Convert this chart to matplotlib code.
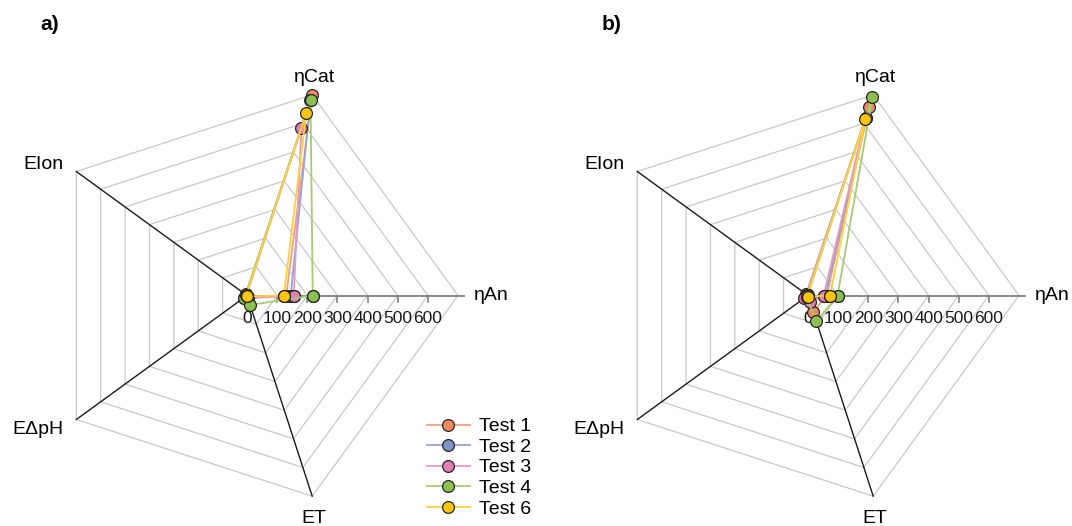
import numpy as np
import matplotlib
matplotlib.use('Agg')
import matplotlib.pyplot as plt

plt.rcParams['font.family'] = ['Liberation Sans', 'DejaVu Sans']

# axes of the radar, counter-clockwise starting at the right
axis_labels = ['ηAn', 'ηCat', 'EIon', 'EΔpH', 'ET']
ring_values = [100, 200, 300, 400, 500, 600, 700]
tick_labels = ['0', '100', '200', '300', '400', '500', '600']
series_names = ['Test 1', 'Test 2', 'Test 3', 'Test 4', 'Test 6']

# values per series, same order as axis_labels
a_test1 = [130, 700, 4, 4, 8]
a_test2 = [145, 681, 5, 14, 6]
a_test3 = [155, 585, 4, 5, 10]
a_test4 = [218, 682, 6, 12, 33]
a_test6 = [122, 637, 3, 2, 3]

b_test1 = [62, 656, 5, 8, 57]
b_test2 = [58, 619, 6, 8, 15]
b_test3 = [52, 618, 8, 15, 24]
b_test4 = [98, 691, 4, 6, 90]
b_test6 = [73, 617, 2, 3, 4]

colors = ['#f4895f', '#7f92c6', '#e27db6', '#8cc04f', '#ffc40c']
line_colors = ['#f3a07e', '#98a4c8', '#e39ac4', '#a5cb73', '#ffcf3f']

angles = np.deg2rad(np.arange(5) * 72.0)
U = 700 / 211.0  # data units per pixel

fig = plt.figure(figsize=(10.72, 5.26), dpi=100)


def radar(left_px, width_px, cx, cy, data, show_legend):
    ax = fig.add_axes([left_px / 1072, 0, width_px / 1072, 1])
    ax.set_xlim((left_px - cx) * U, (left_px + width_px - cx) * U)
    ax.set_ylim(-(526 - cy) * U, cy * U)
    ax.axis('off')

    cs, sn = np.cos(angles), np.sin(angles)
    # pentagon rings
    for r in ring_values:
        ax.plot(np.append(cs, cs[0]) * r, np.append(sn, sn[0]) * r,
                color='#c9c9c9', lw=0.9, zorder=1)
    # spokes
    rmax = ring_values[-1]
    ax.plot([0, cs[1] * rmax], [0, sn[1] * rmax], color='#c9c9c9', lw=0.9, zorder=1)
    for i in (2, 3, 4):
        ax.plot([0, cs[i] * rmax], [0, sn[i] * rmax], color='#1a1a1a', lw=1.0, zorder=2)
    ax.plot([0, rmax + 20], [0, 0], color='#808080', lw=1.3, zorder=2)
    for r in ring_values[:-1]:
        ax.plot([r, r], [0, -6 * U], color='#808080', lw=1.2, zorder=2)
    for r, t in zip([0] + ring_values[:-1], tick_labels):
        ax.text(r, -23 * U, t, ha='center', va='center', fontsize=12.5, color='#1a1a1a')

    # axis names
    fs = 14
    ax.text(cs[0] * rmax + 16 * U, 0, axis_labels[0], ha='left', va='center', fontsize=fs)
    ax.text(cs[1] * rmax + 2 * U, sn[1] * rmax + 9 * U, axis_labels[1],
            ha='center', va='bottom', fontsize=fs)
    ax.text(cs[2] * rmax - 13 * U, sn[2] * rmax + 7 * U, axis_labels[2],
            ha='right', va='center', fontsize=fs)
    ax.text(cs[3] * rmax - 13 * U, sn[3] * rmax - 10 * U, axis_labels[3],
            ha='right', va='center', fontsize=fs)
    ax.text(cs[4] * rmax + 2 * U, sn[4] * rmax - 14 * U, axis_labels[4],
            ha='center', va='top', fontsize=fs)

    handles = []
    for vals, c, lc, name in zip(data, colors, line_colors, series_names):
        v = np.array(vals + vals[:1], dtype=float)
        ang = np.append(angles, angles[0])
        h, = ax.plot(v * np.cos(ang), v * np.sin(ang), color=lc, lw=1.3,
                     marker='o', markersize=8.5, markerfacecolor=c,
                     markeredgecolor='#262626', markeredgewidth=0.9,
                     label=name, zorder=3)
        handles.append(h)

    if show_legend:
        fig.legend(handles=handles, loc='upper left',
                   bbox_to_anchor=(419 / 1072, 1 - 410 / 526),
                   frameon=False, fontsize=14, handlelength=2.2,
                   handletextpad=0.5, labelspacing=0.15, borderaxespad=0)
    return ax


radar(0, 536, 247, 295.5, [a_test1, a_test2, a_test3, a_test4, a_test6], True)
radar(536, 536, 808, 295.5, [b_test1, b_test2, b_test3, b_test4, b_test6], False)

fig.text(40 / 1072, 1 - 25 / 526, 'a)', fontsize=15, fontweight='bold', va='center')
fig.text(602 / 1072, 1 - 25 / 526, 'b)', fontsize=15, fontweight='bold', va='center')

fig.savefig('out.png', dpi=100)
